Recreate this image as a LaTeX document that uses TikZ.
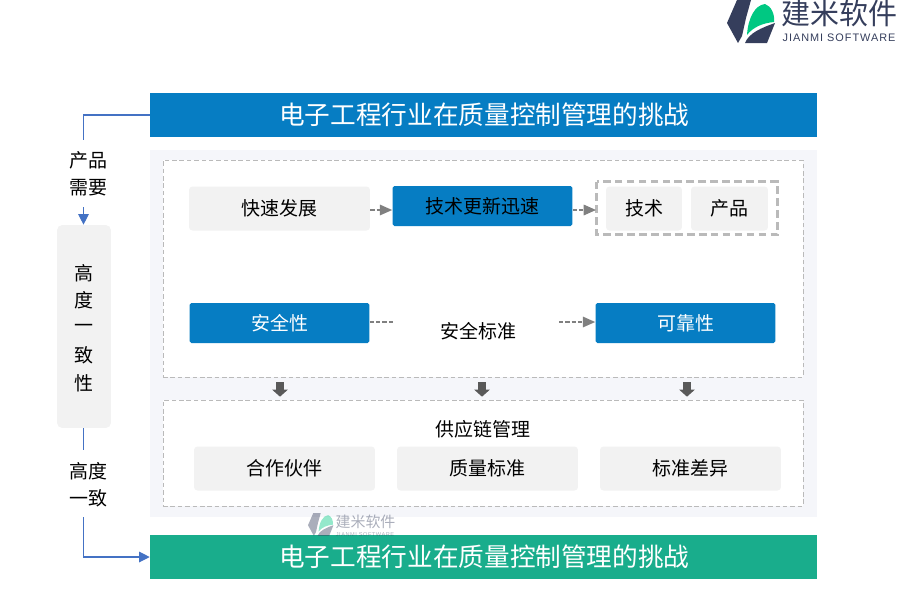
\documentclass[tikz,border=0pt]{standalone}
\usepackage{fontspec}
\usepackage{xcolor}
\setmainfont{Noto Sans CJK SC}
\newfontfamily\latinfont[LetterSpace=9]{Liberation Sans}
\usetikzlibrary{arrows.meta, positioning, calc}
\definecolor{titleblue}{RGB}{6, 125, 195}
\definecolor{titlegreen}{RGB}{25, 173, 140}
\definecolor{panelbg}{RGB}{245, 246, 250}
\definecolor{softgray}{RGB}{242, 242, 242}
\definecolor{linkblue}{RGB}{68, 114, 196}
\definecolor{logonavy}{RGB}{53, 62, 92}
\definecolor{logogreen}{RGB}{0, 200, 130}
\tikzset{
  titlebar/.style={minimum width=13.34cm, minimum height=0.88cm, text=white, font=\fontsize{14.6}{16}\selectfont, inner sep=0pt},
  graybox/.style={fill=softgray, rounded corners=2pt, minimum width=3.62cm, minimum height=0.88cm, font=\fontsize{10.8}{13}\selectfont, inner sep=0pt},
  bluebox/.style={fill=titleblue, rounded corners=1pt, minimum width=3.6cm, minimum height=0.8cm, font=\fontsize{10.8}{13}\selectfont, inner sep=0pt},
  plaintext/.style={font=\fontsize{10.8}{13}\selectfont, inner sep=0pt},
  dashbox/.style={draw=black!27, fill=white, dash pattern=on 2.6pt off 1.6pt, inner sep=0pt},
  dasharrow/.style={draw=black!50, dash pattern=on 2.4pt off 1.2pt, thick, -{Triangle[length=7pt, width=6pt]}},
  dashline/.style={draw=black!50, dash pattern=on 2.4pt off 1.2pt, thick},
  linkline/.style={draw=linkblue, semithick},
  linkarrow/.style={draw=linkblue, semithick, -{Triangle[length=6pt, width=6pt]}},
  downarrow/.style={draw=black!65, line width=4.5pt, -{Triangle[length=4pt, width=8.7pt]}, shorten <=2.85pt, shorten >=1.7pt},
  logomark/.pic={
    \fill[logonavy] (10,0) -- (24,0) -- (19,18) -- (15,36) -- (11,43) -- (0,23) -- cycle;
    \fill[logonavy] (18,43) .. controls (22,33) and (34,28) .. (48,23) -- (40,43) -- cycle;
    \fill[logogreen] (20,35) .. controls (21,18) and (28,5) .. (38,4) .. controls (44,6) and (48,14) .. (47,22) .. controls (36,23) and (26,27) .. cycle;
  }
}
\begin{document}
\begin{tikzpicture}[x=0.02cm, y=-0.02cm]
  \useasboundingbox (0,0) rectangle (900,600);
  % panel and titles
  \fill[panelbg] (150,150) rectangle (817,517);
  \node[titlebar, fill=titleblue] (titletop) at (483.5,115) {\hspace{1pt}电子工程行业在质量控制管理的挑战};
  \node[titlebar, fill=titlegreen] (titlebottom) at (483.5,557) {\hspace{1pt}电子工程行业在质量控制管理的挑战};
  % dashed frames
  \node[dashbox, minimum width=12.8cm, minimum height=4.34cm] (framea) at (483,268.5) {};
  \node[dashbox, minimum width=12.8cm, minimum height=2.12cm] (frameb) at (483,453) {};
  \draw[black!27, line width=1.2pt, dash pattern=on 4.4pt off 2.4pt] (596.5,181.5) rectangle (777.5,234.5);
  \coordinate (framec) at (596,210);
  % first row
  \node[graybox] (fast) at (279.5,208.5) {快速发展};
  \node[bluebox] (update) at (482.5,206) {技术更新迅速};
  \node[graybox, minimum width=1.52cm] (tech) at (644,208.5) {技术};
  \node[graybox, minimum width=1.54cm] (prod) at (729.5,208.5) {产品};
  \draw[dasharrow] (fast.east |- framec) -- (update.west |- framec);
  \draw[dasharrow] (update.east |- framec) -- (framec);
  % second row
  \node[bluebox, text=white] (safe) at (279.5,323) {\hspace{1pt}安全性};
  \node[bluebox, text=white] (reliable) at (685.5,323) {\hspace{1pt}可靠性};
  \node[plaintext] (standard) at (478.5,331) {安全标准};
  \coordinate (dasha) at (395,322);
  \coordinate (dashb) at (559,322);
  \draw[dashline] (safe.east |- dasha) -- (dasha);
  \draw[dasharrow] (dashb) -- (reliable.west |- dashb);
  % block arrows
  \coordinate (downa) at (280,377);
  \coordinate (downb) at (482,377);
  \coordinate (downc) at (687,377);
  \foreach \d in {downa,downb,downc}
    \draw[downarrow] (\d) -- (\d |- frameb.north);
  % supply chain
  \node[plaintext] (chain) at (483,429) {供应链管理};
  \node[graybox] (partner) at (284.5,468.5) {合作伙伴};
  \node[graybox] (quality) at (487.5,468.5) {质量标准};
  \node[graybox] (diff) at (690.5,468.5) {标准差异};
  % left side
  \node[fill=softgray, rounded corners=3pt, minimum width=1.08cm, minimum height=4.06cm, inner sep=0pt] (consist) at (84,326.5) {};
  \foreach \t/\y/\n in {高/273/a,度/300/b,一/328/c,致/355/d,性/383/e}
    \node[plaintext] (consist\n) at (84,\y) {\t};
  \node[plaintext] (needa) at (88.5,160) {产品};
  \node[plaintext] (needb) at (88.5,188) {需要};
  \node[plaintext] (evena) at (88.5,471) {高度};
  \node[plaintext] (evenb) at (88.5,498) {一致};
  \coordinate (breaka) at (83.5,140);
  \coordinate (breakb) at (83.5,207);
  \coordinate (breakc) at (83.5,450);
  \coordinate (breakd) at (83.5,517);
  \draw[linkline] (titletop.west) -| (breaka);
  \draw[linkarrow] (breakb) -- (breakb |- consist.north);
  \draw[linkline] (breakc |- consist.south) -- (breakc);
  \draw[linkarrow] (breakd) |- (titlebottom.west);
  % logo
  \pic at (727,0) {logomark};
  \node[font=\fontsize{16.5}{18}\selectfont, text=logonavy, inner sep=0pt] (logotext) at (839.5,13.5) {建米软件};
  \node[font=\fontsize{6.2}{8}\latinfont, text=logonavy, inner sep=0pt] (logosub) at (839,38) {JIANMI SOFTWARE};
  % watermark
  \begin{scope}[opacity=0.42]
    \pic[scale=0.53] at (308,513) {logomark};
    \node[font=\fontsize{8.5}{10}\selectfont, text=logonavy, inner sep=0pt] (marktext) at (365.5,522) {建米软件};
    \node[font=\fontsize{3.2}{4}\latinfont, text=logonavy, inner sep=0pt] (marksub) at (365,535) {JIANMI SOFTWARE};
  \end{scope}
\end{tikzpicture}
\end{document}
